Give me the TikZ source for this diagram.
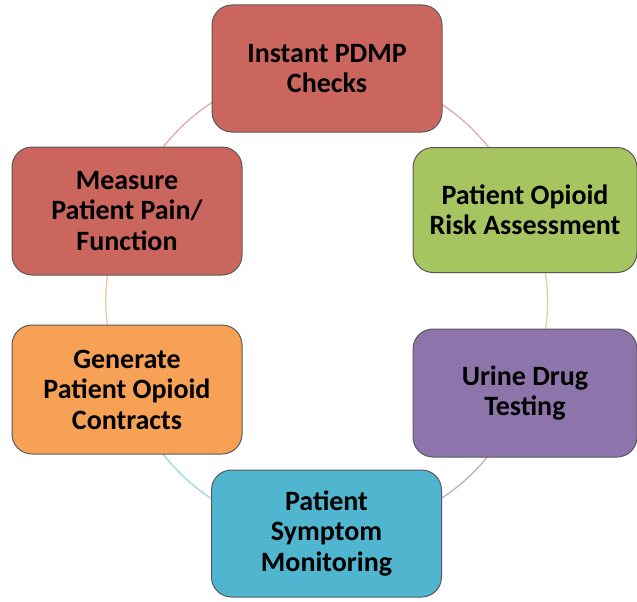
\documentclass[tikz,border=0pt]{standalone}
\usepackage{fontspec}
\setmainfont{Carlito}
\usetikzlibrary{backgrounds}
\definecolor{stagered}{RGB}{203,102,94}
\definecolor{stagegreen}{RGB}{166,196,96}
\definecolor{stagepurple}{RGB}{141,117,172}
\definecolor{stagecyan}{RGB}{80,181,207}
\definecolor{stageorange}{RGB}{247,161,86}
\tikzset{
  stage/.style={draw=black!65, line width=1pt, rounded corners=20pt,
    minimum width=230pt, minimum height=127pt, align=center, text=black,
    font=\fontsize{28}{30.5}\selectfont\bfseries},
  ring/.style={line width=1.3pt}
}
\begin{document}
\begin{tikzpicture}[x=1pt,y=-1pt]
  \useasboundingbox (0,0) rectangle (637,602);
  % the six stages
  \node[stage, fill=stagered] (pdmp) at (327,68.5) {Instant PDMP\\Checks};
  \node[stage, fill=stagegreen, minimum width=224pt, minimum height=125pt] (risk) at (525,210) {Patient Opioid\\Risk Assessment};
  \node[stage, fill=stagepurple, minimum width=224pt, minimum height=128pt] (urine) at (525,393) {Urine Drug\\Testing};
  \node[stage, fill=stagecyan] (symptom) at (326.5,533.5) {Patient\\Symptom\\Monitoring};
  \node[stage, fill=stageorange, minimum height=129pt] (contracts) at (127,389.5) {Generate\\Patient Opioid\\Contracts};
  \node[stage, fill=stagered, minimum height=128pt] (measure) at (127,211) {Measure\\Patient Pain/\\Function};
  % ring behind the boxes
  \begin{scope}[on background layer]
    \draw[ring, stagered!55] (pdmp.center) to[bend left=32] (risk.center);
    \draw[ring, stagegreen!60] (risk.center) to[bend left=25] (urine.center);
    \draw[ring, stagepurple!60] (urine.center) to[bend left=32] (symptom.center);
    \draw[ring, stagecyan!55] (symptom.center) to[bend left=33] (contracts.center);
    \draw[ring, stageorange!60] (contracts.center) to[bend left=24] (measure.center);
    \draw[ring, stagered!55] (measure.center) to[bend left=33] (pdmp.center);
  \end{scope}
\end{tikzpicture}
\end{document}
